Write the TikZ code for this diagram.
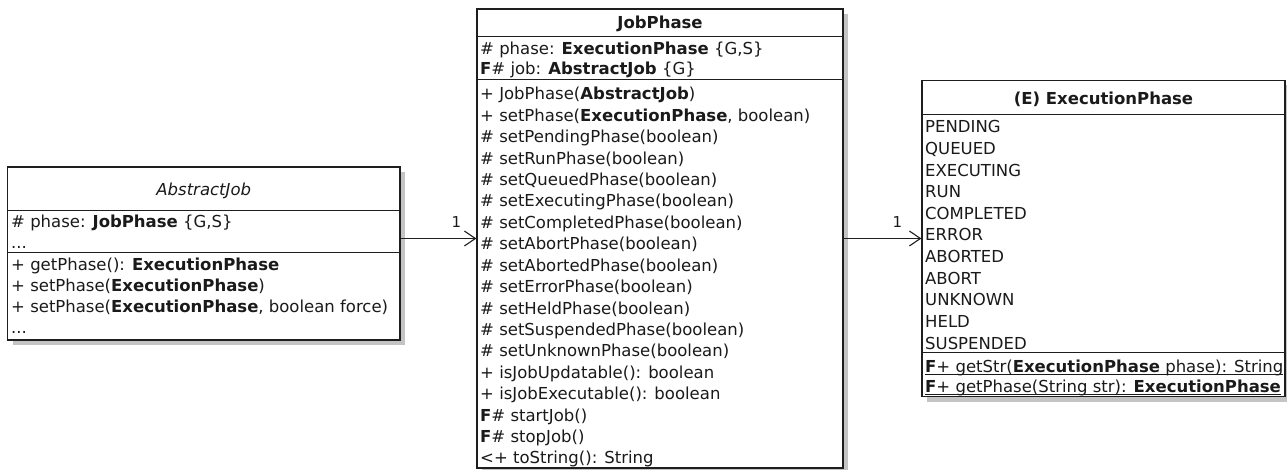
\documentclass[tikz,border=0pt]{standalone}
\usepackage{fontspec}
\setmainfont{DejaVu Sans}
\usetikzlibrary{arrows.meta,shadows,calc}

% underline a whole member line (static members)
\newcommand\ulined[1]{\setbox0\hbox{#1}\rlap{\rule[-3pt]{\wd0}{1pt}}\box0}

\definecolor{umlline}{HTML}{1E1E1E}
\definecolor{umlshadow}{HTML}{C4C4C4}
\definecolor{umltext}{HTML}{1A1A1A}

\begin{document}
\begin{tikzpicture}[x=1pt,y=-1pt,
  classbox/.style={draw=umlline, line width=1.3pt, fill=white, inner sep=0pt,
    drop shadow={shadow xshift=5pt, shadow yshift=-5pt, fill=umlshadow, opacity=1}},
  sep/.style={draw=umlline, line width=1.1pt},
  row/.style={anchor=base west, inner sep=0pt, text=umltext, font=\fontsize{16.5}{20}\selectfont},
  title/.style={anchor=base, inner sep=0pt, text=umltext, font=\fontsize{16.5}{20}\selectfont},
  assoc/.style={draw=umlline, line width=1.1pt,
    -{Straight Barb[length=11pt,width=15pt,line width=1.1pt]}},
  mult/.style={inner sep=0pt, text=umltext, font=\fontsize{15}{18}\selectfont}]

\useasboundingbox (0,0) rectangle (1287,470);

% ---- class frames ----
\node[classbox, minimum width=392.5pt, minimum height=173pt] (aj) at (203.75,253.5) {};
\node[classbox, minimum width=366pt, minimum height=459pt] (jp) at (660,238.5) {};
\node[classbox, minimum width=363pt, minimum height=316pt] (ep) at (1103.5,238.5) {};

% ---- compartment separators ----
\draw[sep] ($(aj.north west)+(0,44)$) -- ($(aj.north east)+(0,44)$);
\draw[sep] ($(aj.north west)+(0,86)$) -- ($(aj.north east)+(0,86)$);
\draw[sep] ($(jp.north west)+(0,28)$) -- ($(jp.north east)+(0,28)$);
\draw[sep] ($(jp.north west)+(0,71)$) -- ($(jp.north east)+(0,71)$);
\draw[sep] ($(ep.north west)+(0,35)$) -- ($(ep.north east)+(0,35)$);
\draw[sep] ($(ep.north west)+(0,273)$) -- ($(ep.north east)+(0,273)$);

% ---- AbstractJob ----
\node[title, font=\fontsize{16.5}{20}\selectfont\itshape] (ajt) at (203.75,196) {AbstractJob};
\node[row] (aja1) at (11,228) {\# phase: \textbf{JobPhase} \{G,S\}};
\node[row] (aja2) at (11,249) {...};
\node[row] (ajm1) at (11,270) {+ getPhase(): \textbf{ExecutionPhase}};
\node[row] (ajm2) at (11,291) {+ setPhase(\textbf{ExecutionPhase})};
\node[row] (ajm3) at (11,312) {+ setPhase(\textbf{ExecutionPhase}, boolean force)};
\node[row] (ajm4) at (11,333) {...};

% ---- JobPhase ----
\node[title, font=\fontsize{16.5}{20}\selectfont\bfseries] (jpt) at (660,29) {JobPhase};
\node[row] (jpa1) at (480,55) {\# phase: \textbf{ExecutionPhase} \{G,S\}};
\node[row] (jpa2) at (480,75) {\textbf{F}\# job: \textbf{AbstractJob} \{G\}};
\foreach \txt [count=\i from 0] in {
  {+ JobPhase(\textbf{AbstractJob})},
  {+ setPhase(\textbf{ExecutionPhase}, boolean)},
  {\# setPendingPhase(boolean)},
  {\# setRunPhase(boolean)},
  {\# setQueuedPhase(boolean)},
  {\# setExecutingPhase(boolean)},
  {\# setCompletedPhase(boolean)},
  {\# setAbortPhase(boolean)},
  {\# setAbortedPhase(boolean)},
  {\# setErrorPhase(boolean)},
  {\# setHeldPhase(boolean)},
  {\# setSuspendedPhase(boolean)},
  {\# setUnknownPhase(boolean)},
  {+ isJobUpdatable(): boolean},
  {+ isJobExecutable(): boolean},
  {\textbf{F}\# startJob()},
  {\textbf{F}\# stopJob()},
  {<+ toString(): String}}
  \node[row] (jpm\i) at (480,{100+\i*21.4}) {\txt};

% ---- ExecutionPhase ----
\node[title, font=\fontsize{16.5}{20}\selectfont\bfseries] (ept) at (1103.5,105) {(E) ExecutionPhase};
\foreach \lit [count=\i from 0] in {PENDING,QUEUED,EXECUTING,RUN,COMPLETED,ERROR,
  ABORTED,ABORT,UNKNOWN,HELD,SUSPENDED}
  \node[row] (epl\i) at (925,{133+\i*21.6}) {\lit};
\node[row] (eps1) at (925,372) {\ulined{\textbf{F}+ getStr(\textbf{ExecutionPhase} phase): String}};
\node[row] (eps2) at (925,392) {\ulined{\textbf{F}+ getPhase(String str): \textbf{ExecutionPhase}}};

% ---- associations ----
\draw[assoc] (aj.east |- jp.west) -- (jp.west);
\draw[assoc] (jp.east) -- (ep.west);
\node[mult] (m1) at ($(jp.west)+(-20,-16)$) {1};
\node[mult] (m2) at ($(ep.west)+(-24,-16)$) {1};

\end{tikzpicture}
\end{document}
